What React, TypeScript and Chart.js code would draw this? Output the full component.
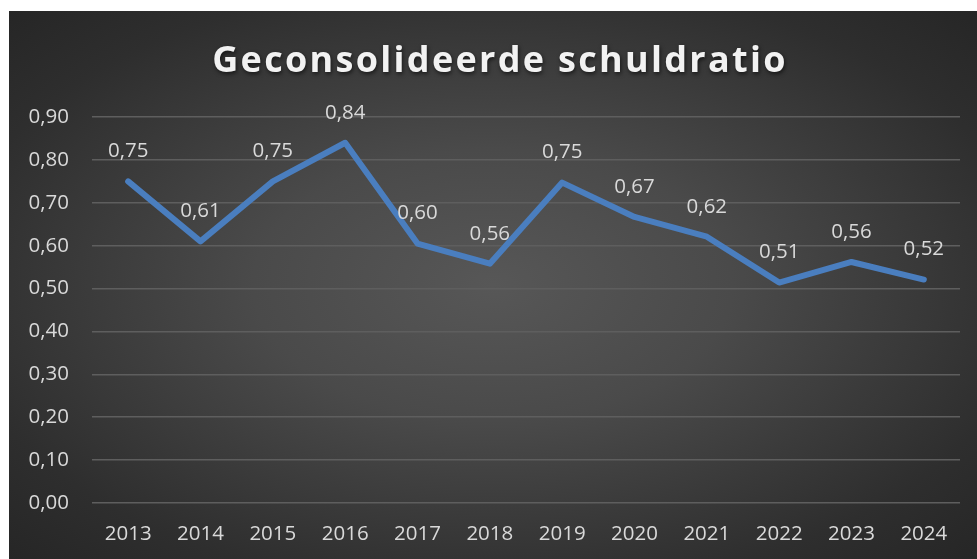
import React, { useEffect, useRef } from "react";
import { Chart, registerables } from "chart.js";

Chart.register(...registerables);

const TITLE = "Geconsolideerde schuldratio";
const YEARS = ["2013", "2014", "2015", "2016", "2017", "2018", "2019", "2020", "2021", "2022", "2023", "2024"];
const RATIO = [0.75, 0.61, 0.75, 0.84, 0.605, 0.558, 0.747, 0.667, 0.621, 0.514, 0.562, 0.521];
const Y_MIN = 0;
const Y_MAX = 0.9;
const Y_STEP = 0.1;

const FONT = "'Open Sans', 'Noto Sans', sans-serif";
const fmt = (v: number) => v.toFixed(2).replace(".", ",");

const titlePlugin = {
  id: "customTitle",
  afterDraw(chart: any) {
    const ctx = chart.ctx as CanvasRenderingContext2D;
    ctx.save();
    ctx.font = `bold 36px ${FONT}`;
    (ctx as any).letterSpacing = "2.3px";
    ctx.fillStyle = "#f2f2f2";
    ctx.textAlign = "center";
    ctx.textBaseline = "alphabetic";
    ctx.shadowColor = "rgba(0,0,0,0.6)";
    ctx.shadowBlur = 4;
    ctx.shadowOffsetX = 1;
    ctx.shadowOffsetY = 2;
    ctx.fillText(TITLE, chart.width / 2 + 7, 61);
    ctx.restore();
  },
};

const labelPlugin = {
  id: "valueLabels",
  afterDatasetsDraw(chart: any) {
    const ctx = chart.ctx as CanvasRenderingContext2D;
    const meta = chart.getDatasetMeta(0);
    ctx.save();
    ctx.font = `20.5px ${FONT}`;
    ctx.fillStyle = "#d9d9d9";
    ctx.textAlign = "center";
    ctx.textBaseline = "middle";
    meta.data.forEach((pt: any, i: number) => {
      ctx.fillText(fmt(RATIO[i]), pt.x, pt.y - 30);
    });
    ctx.restore();
  },
};

export default function App() {
  const ref = useRef<HTMLCanvasElement | null>(null);
  useEffect(() => {
    if (!ref.current) return;
    const chart = new Chart(ref.current, {
      type: "line",
      data: {
        labels: YEARS,
        datasets: [
          {
            data: RATIO,
            borderColor: "#4a7ebf",
            borderWidth: 6,
            pointRadius: 0,
            tension: 0,
            fill: false,
            borderJoinStyle: "round",
            borderCapStyle: "round",
          },
        ],
      },
      options: {
        responsive: false,
        animation: false,
        layout: { padding: { top: 106, right: 17, bottom: 0, left: 0 } },
        plugins: {
          legend: { display: false },
          tooltip: { enabled: false },
          title: { display: false },
        },
        scales: {
          x: {
            offset: true,
            grid: { display: false, drawTicks: false },
            border: { display: false },
            ticks: { color: "#d9d9d9", font: { family: FONT, size: 20.5 }, padding: 19, maxRotation: 0 },
            afterFit(scale: any) {
              scale.height = 56;
            },
          },
          y: {
            min: Y_MIN,
            max: Y_MAX,
            grid: { color: "#5e5e5e", lineWidth: 1.5, drawTicks: false },
            border: { display: false },
            ticks: {
              stepSize: Y_STEP,
              color: "#d9d9d9",
              font: { family: FONT, size: 20.5 },
              padding: 23,
              callback: (v: any) => fmt(Number(v)),
            },
            afterFit(scale: any) {
              scale.width = 83;
            },
          },
        },
      },
      plugins: [titlePlugin, labelPlugin],
    });
    return () => chart.destroy();
  }, []);

  return (
    <div
      style={{
        position: "absolute",
        left: 9,
        top: 11,
        width: 968,
        height: 548,
        background: "radial-gradient(ellipse at 50% 50%, #575757 0%, #4a4a4a 35%, #2e2e2e 80%, #262626 100%)",
      }}
    >
      <canvas ref={ref} width={968} height={548} style={{ display: "block" }} />
    </div>
  );
}
